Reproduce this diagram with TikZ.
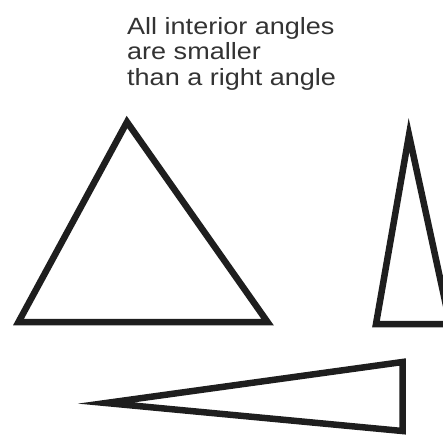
\documentclass[tikz,border=0pt]{standalone}
\usepackage{fontspec}
\newfontfamily\labelfont[FakeStretch=1.15]{Liberation Sans}
\usepackage{tikz}
\definecolor{Ink}{HTML}{1E1E1E}
\definecolor{Txt}{HTML}{333333}

\begin{document}
\begin{tikzpicture}[x=1pt,y=-1pt,
    rim/.style={draw=Ink,line width=6.5pt}]
      \useasboundingbox (0,0) rectangle (443,434);
      \clip (0,0) rectangle (443,434);
      \foreach \pa/\pb/\pc in {
        {127,122}/{18.5,322}/{267.5,322},
        {409,135}/{376,324}/{450,324},
        {106,403}/{402.5,362}/{402.5,431}}{
        \path[rim] (\pa) -- (\pb) -- (\pc) -- cycle;
      }
      \node[anchor=north west,inner sep=0pt,align=left,text=Txt,
        font=\labelfont\fontsize{23.5}{25.5}\selectfont] (caption) at (127,17)
        {All interior angles\\are smaller\\than a right angle};
    \end{tikzpicture}
\end{document}
